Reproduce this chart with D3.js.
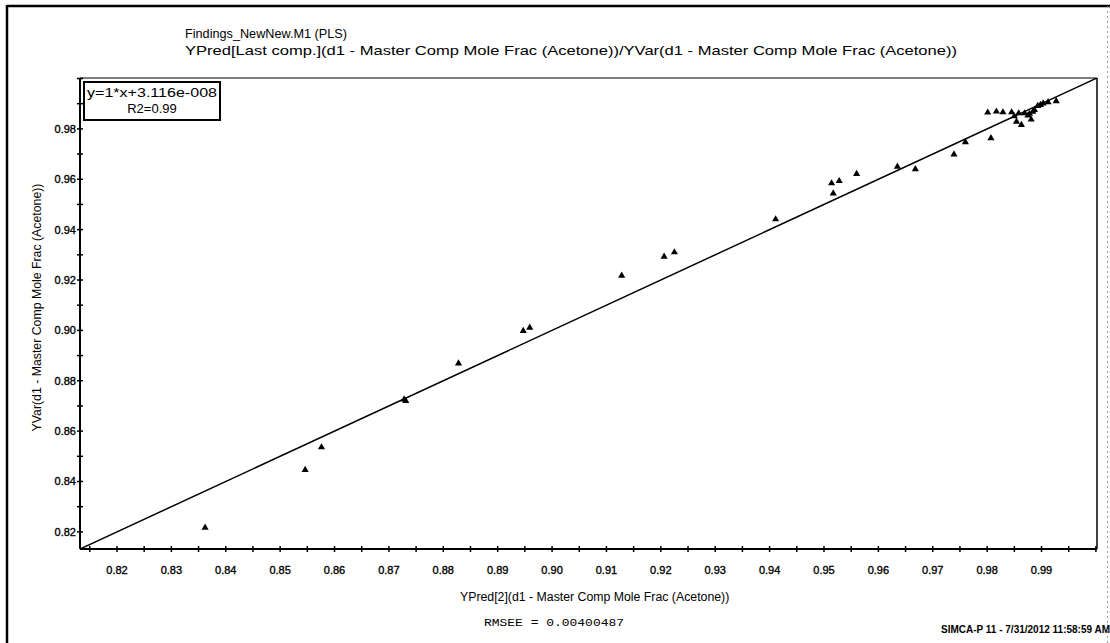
<!DOCTYPE html>
<html>
<head>
<meta charset="utf-8">
<script src="https://cdn.jsdelivr.net/npm/d3@7/dist/d3.min.js"></script>
<style>
  html, body { margin: 0; padding: 0; background: #fff; }
  svg { display: block; }
  text { font-family: "Liberation Sans", Arial, sans-serif; fill: #000; }
  text.mono { font-family: "Liberation Mono", "DejaVu Sans Mono", monospace; }
  text.heavy { stroke: #000; stroke-width: 0.35px; }
</style>
</head>
<body>
<svg id="chart" width="1110" height="643"></svg>
<script>
// YPred[2] (predicted) vs YVar (observed) mole fraction of acetone
const predicted = [
  0.8362, 0.8546, 0.8576, 0.8728, 0.8731, 0.8828, 0.8947, 0.8959, 0.9128,
  0.9206, 0.9225, 0.9411, 0.9514, 0.9528, 0.9517, 0.9560, 0.9635, 0.9668,
  0.9739, 0.9760, 0.9807, 0.9801, 0.9817, 0.9829, 0.9845, 0.9854, 0.9863,
  0.9858, 0.9869, 0.9875, 0.9881, 0.9887, 0.9893, 0.9903, 0.9912, 0.9927,
  0.9878, 0.9884, 0.9850, 0.9898
];
const observed = [
  0.8217, 0.8446, 0.8536, 0.8726, 0.8720, 0.8869, 0.8998, 0.9011, 0.9217,
  0.9293, 0.9310, 0.9441, 0.9584, 0.9593, 0.9544, 0.9621, 0.9650, 0.9640,
  0.9699, 0.9747, 0.9763, 0.9865, 0.9869, 0.9866, 0.9866, 0.9829, 0.9816,
  0.9862, 0.9862, 0.9853, 0.9837, 0.9875, 0.9891, 0.9901, 0.9906, 0.9910,
  0.9860, 0.9868, 0.9850, 0.9895
];

// Tick labels shown on both axes
const xTickLabels = [0.82, 0.83, 0.84, 0.85, 0.86, 0.87, 0.88, 0.89, 0.90, 0.91,
                     0.92, 0.93, 0.94, 0.95, 0.96, 0.97, 0.98, 0.99];
const yTickLabels = [0.82, 0.84, 0.86, 0.88, 0.90, 0.92, 0.94, 0.96, 0.98];

// Regression: y = slope * x + intercept
const slope = 1;
const intercept = 3.116e-8;
const r2 = 0.99;
const rmsee = 0.00400487;

const titleLines = [
  "Findings_NewNew.M1 (PLS)",
  "YPred[Last comp.](d1 - Master Comp Mole Frac (Acetone))/YVar(d1 - Master Comp Mole Frac (Acetone))"
];
const xTitle = "YPred[2](d1 - Master Comp Mole Frac (Acetone))";
const yTitle = "YVar(d1 - Master Comp Mole Frac (Acetone))";
const footer = "SIMCA-P 11 - 7/31/2012 11:58:59 AM";

const svg = d3.select("#chart");
const W = 1110, H = 643;
const plot = { left: 80, right: 1097, top: 78, bottom: 549 };
const domain = [0.8132, 1.0002];

const x = d3.scaleLinear().domain(domain).range([plot.left, plot.right]);
const y = d3.scaleLinear().domain(domain).range([plot.bottom, plot.top]);

svg.append("rect").attr("width", W).attr("height", H).attr("fill", "#fff");

// Page frame
svg.append("line").attr("x1", 7).attr("x2", W).attr("y1", 6).attr("y2", 6)
  .attr("stroke", "#000").attr("stroke-width", 2.5);
svg.append("line").attr("x1", 7).attr("x2", 7).attr("y1", 5).attr("y2", H)
  .attr("stroke", "#000").attr("stroke-width", 2.5);
svg.append("line").attr("x1", 1107.5).attr("x2", 1107.5).attr("y1", 6).attr("y2", H)
  .attr("stroke", "#999").attr("stroke-width", 1).attr("stroke-dasharray", "2,3");

// Titles
svg.append("text").attr("x", 185).attr("y", 38).attr("font-size", 13.5)
  .attr("textLength", 162).attr("lengthAdjust", "spacingAndGlyphs")
  .text(titleLines[0]);
svg.append("text").attr("x", 185).attr("y", 55).attr("font-size", 13)
  .attr("textLength", 772).attr("lengthAdjust", "spacingAndGlyphs")
  .text(titleLines[1]);

// Plot frame: thin top/right, heavier left/bottom axes
svg.append("line").attr("x1", plot.left).attr("x2", plot.right)
  .attr("y1", plot.top).attr("y2", plot.top).attr("stroke", "#000").attr("stroke-width", 1.2);
svg.append("line").attr("x1", plot.right).attr("x2", plot.right)
  .attr("y1", plot.top).attr("y2", plot.bottom).attr("stroke", "#000").attr("stroke-width", 1.5);

// Axes with crossing tick marks
const xMinor = d3.range(0.815, 1.0, 0.005).map(v => +v.toFixed(3));
const yMinor = d3.range(0.82, 1.0, 0.01).map(v => +v.toFixed(2));

const xAxis = svg.append("g").attr("transform", `translate(0,${plot.bottom})`);
xAxis.append("line").attr("x1", plot.left).attr("x2", plot.right)
  .attr("stroke", "#000").attr("stroke-width", 2);
xAxis.selectAll("line.tick").data(xMinor).join("line").attr("class", "tick")
  .attr("x1", d => x(d)).attr("x2", d => x(d)).attr("y1", -3).attr("y2", 3)
  .attr("stroke", "#000").attr("stroke-width", 1.5);
xAxis.selectAll("text").data(xTickLabels).join("text").attr("class", "heavy")
  .attr("x", d => x(d)).attr("y", 25).attr("text-anchor", "middle")
  .attr("font-size", 11).text(d => d.toFixed(2));

const yAxis = svg.append("g").attr("transform", `translate(${plot.left},0)`);
yAxis.append("line").attr("y1", plot.top).attr("y2", plot.bottom)
  .attr("stroke", "#000").attr("stroke-width", 2);
yAxis.selectAll("line.tick").data(yMinor).join("line").attr("class", "tick")
  .attr("y1", d => y(d)).attr("y2", d => y(d)).attr("x1", -3).attr("x2", 3)
  .attr("stroke", "#000").attr("stroke-width", 1.5);
yAxis.selectAll("text").data(yTickLabels).join("text").attr("class", "heavy")
  .attr("x", -4).attr("y", d => y(d) + 4).attr("text-anchor", "end")
  .attr("font-size", 11).text(d => d.toFixed(2));

// Axis titles
svg.append("text").attr("x", 460).attr("y", 601)
  .attr("font-size", 12.3).text(xTitle);
svg.append("text")
  .attr("transform", `translate(41,${(plot.top + plot.bottom) / 2 - 6}) rotate(-90)`)
  .attr("text-anchor", "middle").attr("font-size", 12.3).text(yTitle);

// Fitted line across the plot
svg.append("clipPath").attr("id", "plotClip").append("rect")
  .attr("x", plot.left).attr("y", plot.top)
  .attr("width", plot.right - plot.left).attr("height", plot.bottom - plot.top);
const fit = d3.line().x(d => x(d)).y(d => y(slope * d + intercept));
svg.append("path").datum(domain).attr("clip-path", "url(#plotClip)")
  .attr("d", fit).attr("fill", "none").attr("stroke", "#000").attr("stroke-width", 1.5);

// Observations as filled triangles
const tri = d3.symbol().type(d3.symbolTriangle).size(22);
svg.append("g").selectAll("path").data(predicted.map((p, i) => [p, observed[i]]))
  .join("path")
  .attr("transform", d => `translate(${x(d[0])},${y(d[1])})`)
  .attr("d", tri).attr("fill", "#000");

// Equation box
const box = svg.append("g");
box.append("rect").attr("x", 84).attr("y", 82).attr("width", 136).attr("height", 38)
  .attr("fill", "#fff").attr("stroke", "#000").attr("stroke-width", 2);
box.append("text").attr("x", 87).attr("y", 97).attr("font-size", 13)
  .attr("textLength", 130).attr("lengthAdjust", "spacingAndGlyphs")
  .text(`y=${slope}*x+${intercept.toExponential(3).replace("e-8", "e-008")}`);
box.append("text").attr("x", 152).attr("y", 113).attr("text-anchor", "middle")
  .attr("font-size", 13).text(`R2=${r2}`);

// Footer
svg.append("text").attr("class", "mono").attr("x", 484).attr("y", 626)
  .attr("font-size", 11).attr("textLength", 140).attr("lengthAdjust", "spacingAndGlyphs")
  .text(`RMSEE = ${rmsee}`);
svg.append("text").attr("x", 1110).attr("y", 633).attr("text-anchor", "end")
  .attr("font-size", 10).attr("font-weight", "bold").text(footer);
</script>
</body>
</html>
